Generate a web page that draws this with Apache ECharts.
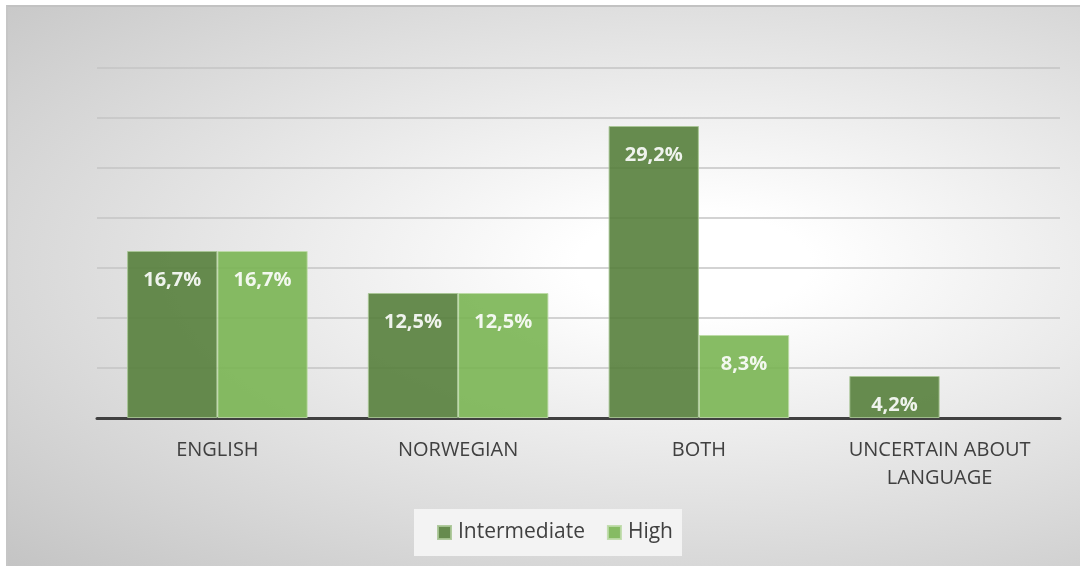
<!DOCTYPE html>
<html>
<head>
<meta charset="utf-8">
<script src="https://cdn.jsdelivr.net/npm/echarts@6/dist/echarts.min.js"></script>
<style>
  html, body { margin: 0; padding: 0; background: #ffffff; }
  #bg { position: absolute; left: 6px; top: 5px; width: 1074px; height: 561px;
        border-top: 2px solid #c2c2c2; border-left: 2px solid #c6c6c6; box-sizing: border-box;
        background: radial-gradient(ellipse at 64% 46%, #ffffff 0%, #ffffff 12%, #c4c4c4 100%); }
  #chart { position: absolute; left: 0; top: 0; width: 1080px; height: 566px; }
</style>
</head>
<body>
<div id="bg"></div>
<div id="chart"></div>
<script>
const categories = ['ENGLISH', 'NORWEGIAN', 'BOTH', 'UNCERTAIN ABOUT\nLANGUAGE'];
const intermediate = [16.7, 12.5, 29.2, 4.2];
const high = [16.7, 12.5, 8.3, null];
const seriesNames = ['Intermediate', 'High'];

const chart = echarts.init(document.getElementById('chart'), null, { renderer: 'canvas' });
const fmt = p => String(p.value).replace('.', ',') + '%';
const labelStyle = {
  show: true, position: 'insideTop', distance: 19, formatter: fmt,
  color: '#ffffff', fontFamily: 'Open Sans', fontWeight: 'bold', fontSize: 20
};
chart.setOption({
  backgroundColor: 'transparent',
  animation: false,
  grid: { left: 97, right: 20, top: 68, bottom: 148 },
  xAxis: {
    type: 'category', data: categories,
    axisLine: { lineStyle: { color: '#404040', width: 3 } },
    axisTick: { show: false },
    axisLabel: { color: '#404040', fontFamily: 'Open Sans', fontSize: 20, margin: 18, lineHeight: 28, interval: 0 }
  },
  yAxis: {
    type: 'value', min: 0, max: 35, interval: 5,
    axisLabel: { show: false }, axisLine: { show: false }, axisTick: { show: false },
    splitLine: { lineStyle: { color: '#c4c4c4', width: 1.5 } }
  },
  legend: {
    top: 509, left: 414,
    backgroundColor: '#f3f3f3', padding: [13, 9, 13, 23],
    itemWidth: 13, itemHeight: 13, itemGap: 22, icon: 'rect',
    textStyle: { color: '#404040', fontFamily: 'Open Sans', fontSize: 21, padding: [0, 0, 0, 2] },
    data: seriesNames
  },
  series: [
    {
      name: seriesNames[0], type: 'bar', data: intermediate,
      barGap: '0%', barCategoryGap: '25%',
      itemStyle: { color: '#567f3c', opacity: 0.9, borderColor: '#a9c595', borderWidth: 1 },
      label: labelStyle
    },
    {
      name: seriesNames[1], type: 'bar', data: high,
      itemStyle: { color: '#7ab553', opacity: 0.9, borderColor: '#bcdaa6', borderWidth: 1 },
      label: labelStyle
    }
  ]
});
</script>
</body>
</html>
